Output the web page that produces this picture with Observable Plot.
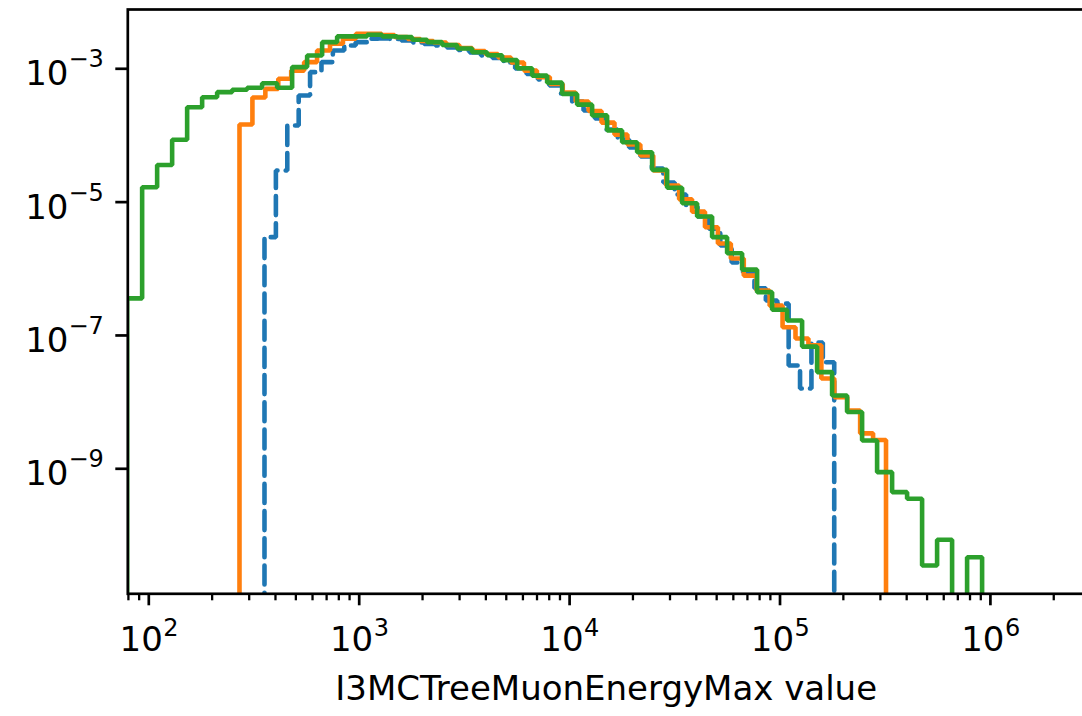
<!DOCTYPE html>
<html><head><meta charset="utf-8">
<script src="https://cdn.jsdelivr.net/npm/d3@7"></script>
<script src="https://cdn.jsdelivr.net/npm/@observablehq/plot@0.6"></script>
<style>html,body{margin:0;padding:0;overflow:hidden;background:#fff;} svg{display:block;max-width:none !important;}</style>
</head><body><div id="chart"></div>
<script>
// ---- data ----
const xLabel = "I3MCTreeMuonEnergyMax value";
const seriesNames = ["blue", "orange", "green"];
const seriesColors = ["#1f77b4", "#ff7f0e", "#2ca02c"];
// log-spaced histogram bin ranges [first edge, last edge]
const blueRange = [354.7, 1.81e5];
const orangeRange = [269.8, 3.19e5];
const greenRange = [78.9, 9.13e5];
// bin heights (one per bin)
const blueValues = [2.98e-6, 2.98e-5, 1.41e-4, 3.98e-4, 8.9e-4, 1.26e-3, 1.88e-3, 2.24e-3, 2.51e-3, 2.82e-3,
  2.85e-3, 2.8e-3, 2.66e-3, 2.48e-3, 2.35e-3, 2.24e-3, 2.09e-3, 1.91e-3, 1.76e-3, 1.58e-3,
  1.45e-3, 1.24e-3, 1.01e-3, 8.36e-4, 6.91e-4, 5.62e-4, 4.26e-4, 3.23e-4, 2.37e-4, 1.80e-4,
  1.23e-4, 8.7e-5, 6.6e-5, 4.83e-5, 3.2e-5, 1.97e-5, 1.30e-5, 8.6e-6, 6.1e-6, 4.0e-6,
  2.24e-6, 1.24e-6, 8.8e-7, 5.1e-7, 3.35e-7, 3.0e-7, 3.54e-8, 1.6e-8, 7.8e-8, 3.97e-8];
const orangeValues = [1.46e-4, 3.71e-4, 5.0e-4, 7.1e-4, 9.4e-4, 1.26e-3, 1.88e-3, 2.37e-3, 2.82e-3, 3.35e-3,
  3.35e-3, 3.21e-3, 3.0e-3, 2.8e-3, 2.61e-3, 2.48e-3, 2.28e-3, 2.05e-3, 1.85e-3, 1.67e-3,
  1.48e-3, 1.24e-3, 9.4e-4, 7.5e-4, 5.9e-4, 4.41e-4, 3.23e-4, 2.33e-4, 1.56e-4, 1.03e-4,
  7.3e-5, 5.0e-5, 2.98e-5, 1.78e-5, 1.10e-5, 7.2e-6, 4.2e-6, 2.4e-6, 1.43e-6, 7.9e-7,
  4.7e-7, 2.8e-7, 1.33e-7, 9.0e-8, 7.1e-8, 2.26e-8, 1.19e-8, 7.5e-9, 3.4e-9, 2.7e-9];
const greenValues = [3.6e-7, 1.67e-5, 3.6e-5, 8.6e-5, 2.65e-4, 3.75e-4, 4.46e-4, 4.84e-4, 5.19e-4, 6.08e-4,
  5.19e-4, 1.06e-3, 1.58e-3, 2.51e-3, 3.06e-3, 3.06e-3, 3.24e-3, 3.06e-3, 2.98e-3, 2.72e-3,
  2.51e-3, 2.27e-3, 2.02e-3, 1.77e-3, 1.60e-3, 1.35e-3, 1.02e-3, 7.9e-4, 6.2e-4, 4.2e-4,
  2.9e-4, 2.0e-4, 1.19e-4, 7.9e-5, 5.6e-5, 3.05e-5, 1.64e-5, 9.6e-6, 6.1e-6, 2.98e-6,
  1.71e-6, 9.7e-7, 4.46e-7, 2.43e-7, 1.68e-7, 6.8e-8, 2.82e-8, 1.26e-8, 7.1e-9, 2.66e-9,
  8.9e-10, 4.46e-10, 3.55e-10, 3.55e-11, 8.6e-11, 0, 4.7e-11];
// ticks
const xMajor = [1e2, 1e3, 1e4, 1e5, 1e6];
const xMajorExp = ["2", "3", "4", "5", "6"];
const yMajor = [1e-3, 1e-5, 1e-7, 1e-9];
const yMajorExp = ["\u22123", "\u22125", "\u22127", "\u22129"];
const xDomain = [79.47, 2.80e6];
const yDomain = [1.333e-11, 7.75e-3];

// ---- build step outlines ----
const FLOOR = 1e-14;
function logEdges(range, n) {
  const a = Math.log10(range[0]), b = Math.log10(range[1]);
  return d3.range(n + 1).map(i => 10 ** (a + (b - a) * i / n));
}
function stepOutline(range, values) {
  const e = logEdges(range, values.length);
  const pts = [{x: e[0], y: FLOOR}];
  values.forEach((v, i) => {
    const y = v > 0 ? v : FLOOR;
    pts.push({x: e[i], y}, {x: e[i + 1], y});
  });
  pts.push({x: e[values.length], y: FLOOR});
  return pts;
}
const bluePts = stepOutline(blueRange, blueValues);
const orangePts = stepOutline(orangeRange, orangeValues);
const greenPts = stepOutline(greenRange, greenValues);

const xMinor = [];
for (let p = 1; p <= 6; p++) for (let m = 2; m <= 9; m++) {
  const v = m * 10 ** p;
  if (v >= xDomain[0] && v <= xDomain[1]) xMinor.push(v);
}

const LW = 4.6, AW = 2.7, FS = 34, FSE = 24;
const chart = Plot.plot({
  width: 1086, height: 716,
  marginLeft: 127.3, marginRight: 2, marginTop: 9, marginBottom: 716 - 593.3,
  x: {type: "log", domain: xDomain, label: null},
  y: {type: "log", domain: yDomain, label: null},
  style: {fontFamily: "'DejaVu Sans', sans-serif", background: "white", color: "black", maxWidth: "none"},
  marks: [
    Plot.line(bluePts, {x: "x", y: "y", stroke: seriesColors[0], strokeWidth: LW, strokeDasharray: "19,8.2", clip: true, strokeLinejoin: "miter"}),
    Plot.line(orangePts, {x: "x", y: "y", stroke: seriesColors[1], strokeWidth: LW, clip: true, strokeLinejoin: "miter"}),
    Plot.line(greenPts, {x: "x", y: "y", stroke: seriesColors[2], strokeWidth: LW, clip: true, strokeLinejoin: "miter"}),
    Plot.frame({stroke: "black", strokeWidth: AW}),
    Plot.axisX({ticks: xMajor, tickSize: 12, tickFormat: () => "", strokeWidth: AW, label: null}),
    Plot.axisX({ticks: xMinor, tickSize: 7, tickFormat: () => "", strokeWidth: AW * 0.85, label: null}),
    Plot.axisY({ticks: yMajor, tickSize: 12, tickFormat: () => "", strokeWidth: AW, label: null}),
    // x tick labels: 10^n
    Plot.text(xMajor, {x: d => d, text: () => "10", frameAnchor: "bottom", dy: 57, dx: 14, textAnchor: "end", fontSize: FS, fill: "black"}),
    Plot.text(xMajor, {x: d => d, text: (d, i) => xMajorExp[i], frameAnchor: "bottom", dy: 42.6, dx: 14.5, textAnchor: "start", fontSize: FSE, fill: "black"}),
    // y tick labels
    Plot.text(yMajor, {y: d => d, text: () => "10", frameAnchor: "left", dx: -59.4, dy: 5.5, textAnchor: "end", fontSize: FS, fill: "black"}),
    Plot.text(yMajor, {y: d => d, text: (d, i) => yMajorExp[i], frameAnchor: "left", dx: -24, dy: -9, textAnchor: "end", fontSize: FSE, fill: "black"}),
    // x label
    Plot.text([xLabel], {text: d => d, frameAnchor: "bottom", dy: 106, fontSize: FS, fill: "black"})
  ]
});
document.getElementById("chart").appendChild(chart);
</script>
</body></html>
